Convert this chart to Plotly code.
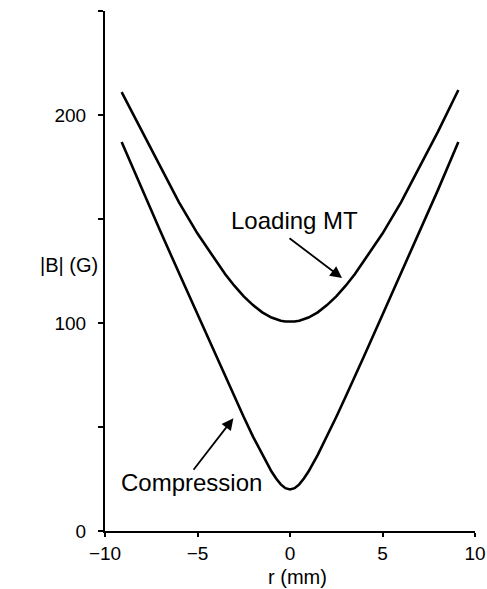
import plotly.graph_objects as go

# Radial position (mm) at which the field magnitude is tabulated
r_mm = [-9.1, -8, -7, -6, -5, -4, -3.5, -3, -2.5, -2, -1.5, -1, -0.75, -0.5,
        -0.25, 0, 0.25, 0.5, 0.75, 1, 1.5, 2, 2.5, 3, 3.5, 4, 5, 6, 7, 8, 9.1]

# |B| (G) during loading into the magnetic trap
b_loading = [211, 192, 175, 158, 143, 130, 123.4, 117.8, 112.8, 108.6, 105.1,
             102.6, 101.8, 101.1, 100.7, 100.6, 100.7, 101.1, 101.8, 102.6,
             105.1, 108.6, 112.8, 117.8, 123.4, 130, 143, 158, 175, 192, 212]

# |B| (G) after compression
b_compression = [187, 164, 144, 124, 104, 84, 74, 64.4, 54.8, 45.4, 36.6,
                 28.6, 25.2, 22.4, 20.6, 20, 20.6, 22.4, 25.2, 28.6, 36.6,
                 45.4, 54.8, 64.4, 74, 84, 104, 124, 144, 164, 187]

x_ticks = [-10, -5, 0, 5, 10]
x_ticktext = ["\u221210", "\u22125", "0", "5", "10"]
y_ticks = [0, 50, 100, 150, 200, 250]
y_ticktext = ["0", "", "100", "", "200", ""]

FONT = "Liberation Sans, Arial, Helvetica, sans-serif"

fig = go.Figure()
for vals in (b_loading, b_compression):
    fig.add_trace(go.Scatter(
        x=r_mm, y=vals, mode="lines",
        line=dict(color="black", width=2.6, shape="linear"),
        showlegend=False, hoverinfo="skip",
    ))

fig.update_layout(
    width=487, height=589,
    margin=dict(l=105, r=12, t=11, b=58),
    paper_bgcolor="white", plot_bgcolor="white",
    font=dict(family=FONT, color="black", size=19),
    showlegend=False,
)

fig.update_xaxes(
    range=[-10, 10], tickvals=x_ticks, ticktext=x_ticktext,
    showline=True, linecolor="black", linewidth=2,
    ticks="outside", ticklen=4, tickwidth=1.5, tickcolor="black",
    showgrid=False, zeroline=False, automargin=False,
    ticklabelstandoff=0, tickfont=dict(size=19, family=FONT),
)
fig.update_yaxes(
    range=[0, 250], tickvals=y_ticks, ticktext=y_ticktext,
    showline=True, linecolor="black", linewidth=2,
    ticks="outside", ticklen=5, tickwidth=1.5, tickcolor="black",
    showgrid=False, zeroline=False, automargin=False,
    ticklabelstandoff=8, tickfont=dict(size=19, family=FONT),
)

# Axis titles
fig.add_annotation(text="|B| (G)", xref="paper", yref="paper",
                   x=-0.096, y=0.512, xanchor="center", yanchor="middle",
                   showarrow=False, font=dict(size=20, family=FONT))
fig.add_annotation(text="r (mm)", xref="paper", yref="paper",
                   x=0.52, y=-0.089, xanchor="center", yanchor="middle",
                   showarrow=False, font=dict(size=20, family=FONT))

# Curve labels with pointer arrows
fig.add_annotation(text="Loading MT", x=0.24, y=149.5, xref="x", yref="y",
                   showarrow=False, font=dict(size=24, family=FONT))
fig.add_annotation(x=2.81, y=121.6, xref="x", yref="y", ax=-54, ay=-41,
                   text="", showarrow=True, arrowhead=2, arrowsize=1.3,
                   arrowwidth=1.8, arrowcolor="black")

fig.add_annotation(text="Compression", x=-5.32, y=23.5, xref="x", yref="y",
                   showarrow=False, font=dict(size=24, family=FONT))
fig.add_annotation(x=-3.06, y=54.2, xref="x", yref="y", ax=-41, ay=53,
                   text="", showarrow=True, arrowhead=2, arrowsize=1.3,
                   arrowwidth=1.8, arrowcolor="black")

fig.write_html("out.html")
